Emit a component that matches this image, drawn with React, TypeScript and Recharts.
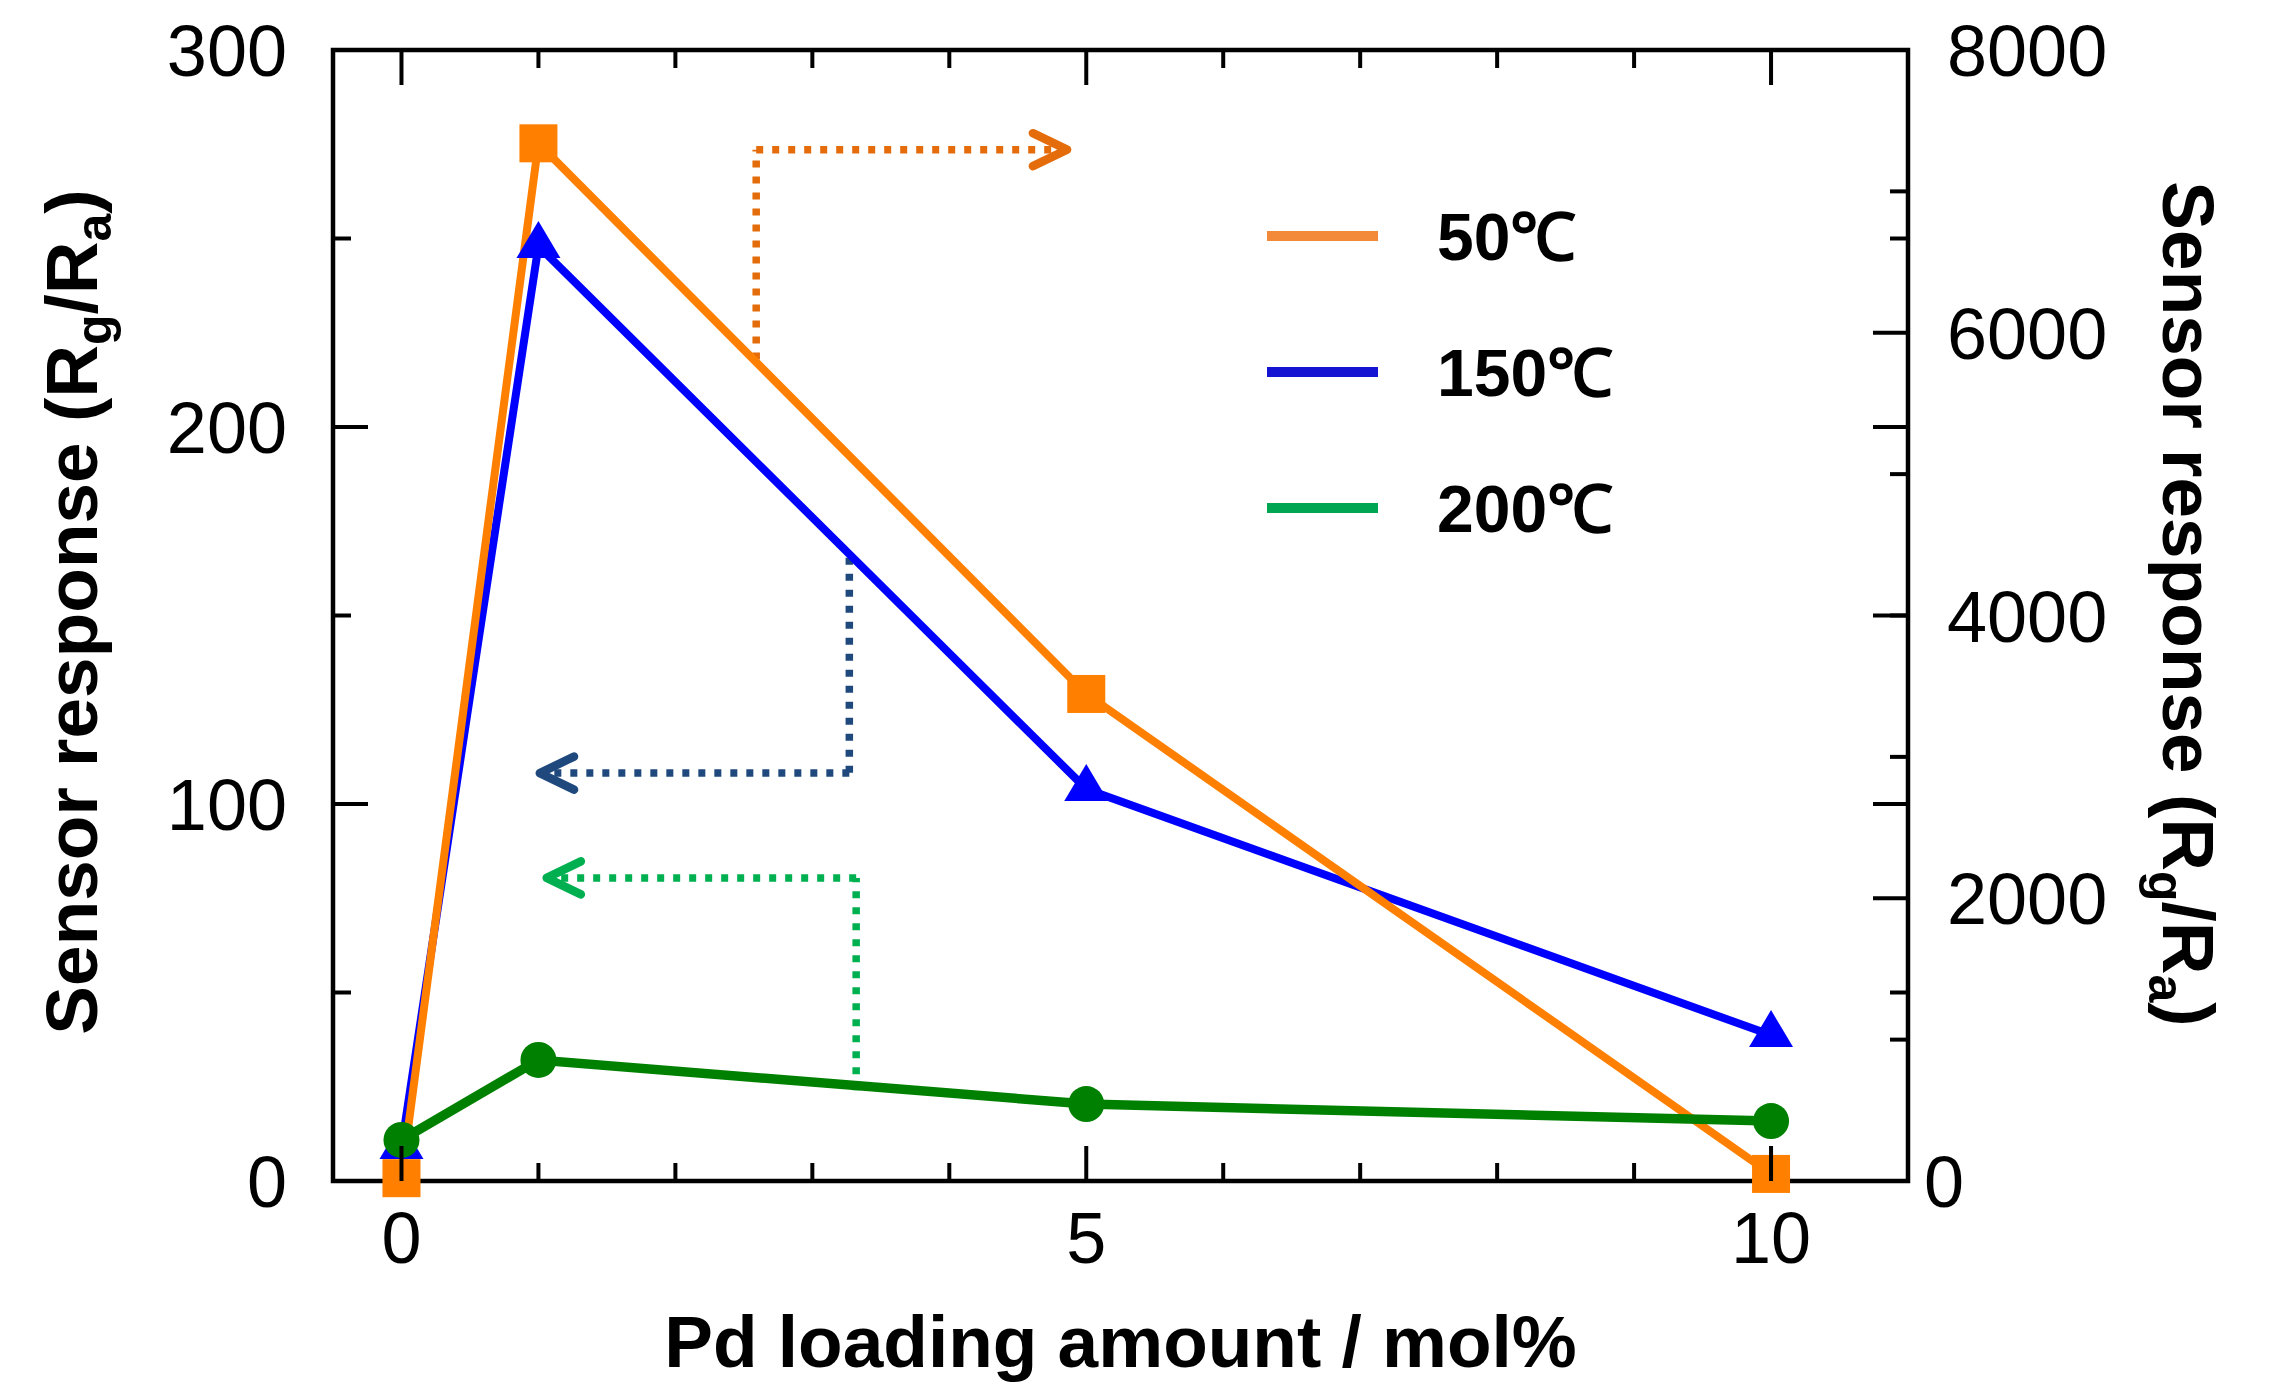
import React from 'react';
import { LineChart, Line, XAxis, YAxis, ReferenceArea, ReferenceLine, Legend, Label } from 'recharts';

// Pd loading (mol%) and sensor response for each working temperature
const loading = [0, 1, 5, 10];
const resp50 = [20, 7340, 3445, 50]; // right axis
const resp150 = [9, 248, 104, 38.7]; // left axis
const resp200 = [10.9, 32.1, 20.4, 15.9]; // left axis

const xTicks = [0, 1, 2, 3, 4, 5, 6, 7, 8, 9, 10];
const leftTicks = [0, 50, 100, 150, 200, 250, 300];
const rightTicks = [0, 1000, 2000, 3000, 4000, 5000, 6000, 7000, 8000];

const legendNames = ['50℃', '150℃', '200℃'];
const legendColors = ['#f28a3a', '#1414d2', '#00a651'];

// dotted guide arrows (corner points, x in mol%, y on the axis they point to)
const guide50X = [2.59, 2.59, 4.86];
const guide50Y = [5810, 7295, 7295];
const guide150X = [3.27, 3.27, 1.01];
const guide150Y = [165.3, 108.2, 108.2];
const guide200X = [3.32, 3.32, 1.06];
const guide200Y = [24.1, 80.4, 80.4];

const data = loading.map((x, i) => ({ x, r50: resp50[i], r150: resp150[i], r200: resp200[i] }));

const W = 2275;
const H = 1392;
const PLOT = { left: 333, right: 1908, top: 50, bottom: 1181 };
const FONT = '"Liberation Sans", Arial, sans-serif';
const TICK_FS = 72;

const XTick = (p: any) => {
  const v = p.payload.value;
  const x = p.x;
  const major = v % 5 === 0;
  const len = major ? 35 : 18;
  return (
    <g>
      <line x1={x} x2={x} y1={PLOT.bottom} y2={PLOT.bottom - len} stroke="#000" strokeWidth={4} />
      <line x1={x} x2={x} y1={PLOT.top} y2={PLOT.top + len} stroke="#000" strokeWidth={4} />
      {major && (
        <text x={x} y={PLOT.bottom + 82} textAnchor="middle" fontSize={TICK_FS} fontFamily={FONT} fill="#000">
          {v}
        </text>
      )}
    </g>
  );
};

const LeftTick = (p: any) => {
  const v = p.payload.value;
  const y = p.y;
  const major = v % 100 === 0;
  const len = major ? 35 : 18;
  return (
    <g>
      <line x1={PLOT.left} x2={PLOT.left + len} y1={y} y2={y} stroke="#000" strokeWidth={4} />
      <line x1={PLOT.right} x2={PLOT.right - len} y1={y} y2={y} stroke="#000" strokeWidth={4} />
      {major && (
        <text x={PLOT.left - 46} y={y + 26} textAnchor="end" fontSize={TICK_FS} fontFamily={FONT} fill="#000">
          {v}
        </text>
      )}
    </g>
  );
};

const RightTick = (p: any) => {
  const v = p.payload.value;
  const y = p.y;
  const major = v % 2000 === 0;
  const len = major ? 35 : 18;
  return (
    <g>
      <line x1={PLOT.right} x2={PLOT.right - len} y1={y} y2={y} stroke="#000" strokeWidth={4} />
      {major && (
        <text x={PLOT.right + (v === 0 ? 16 : 39)} y={y + 26} textAnchor="start" fontSize={TICK_FS} fontFamily={FONT} fill="#000">
          {v}
        </text>
      )}
    </g>
  );
};

const YTitle = ({ x, y, rot }: { x: number; y: number; rot: number }) => (
  <text
    transform={`translate(${x}, ${y}) rotate(${rot})`}
    textAnchor="middle"
    fontSize={73}
    fontWeight="bold"
    fontFamily={FONT}
    fill="#000"
  >
    Sensor response (R
    <tspan dy={14} fontSize={50}>g</tspan>
    <tspan dy={-14}>/R</tspan>
    <tspan dy={14} fontSize={50}>a</tspan>
    <tspan dy={-14}>)</tspan>
  </text>
);

const Square = (p: any) =>
  p.cx == null ? null : (
    <rect key={`sq-${p.index}`} x={p.cx - 19} y={p.cy - 19} width={38} height={38} fill="#ff8000" />
  );

const Triangle = (p: any) =>
  p.cx == null ? null : (
    <polygon
      key={`tr-${p.index}`}
      points={`${p.cx},${p.cy - 25} ${p.cx - 22},${p.cy + 12} ${p.cx + 22},${p.cy + 12}`}
      fill="#0000ff"
    />
  );

const Circle = (p: any) =>
  p.cx == null ? null : <circle key={`ci-${p.index}`} cx={p.cx} cy={p.cy} r={18} fill="#008000" />;

const GuideSeg = (p: any) => {
  const { x1, y1, x2, y2, color, head } = p;
  const ang = Math.atan2(y2 - y1, x2 - x1);
  const L = 38;
  const s = 0.45;
  const ax = x2 - L * Math.cos(ang - s);
  const ay = y2 - L * Math.sin(ang - s);
  const bx = x2 - L * Math.cos(ang + s);
  const by = y2 - L * Math.sin(ang + s);
  return (
    <g>
      <line x1={x1} y1={y1} x2={x2} y2={y2} stroke={color} strokeWidth={7.5} strokeDasharray="7 9" />
      {head && (
        <polyline
          points={`${ax},${ay} ${x2},${y2} ${bx},${by}`}
          fill="none"
          stroke={color}
          strokeWidth={8.5}
          strokeLinecap="round"
          strokeLinejoin="round"
        />
      )}
    </g>
  );
};

const guideLines = (xs: number[], ys: number[], axis: string, color: string) =>
  xs.slice(1).map((x, i) => (
    <ReferenceLine
      key={`${axis}-${color}-${i}`}
      yAxisId={axis}
      segment={[{ x: xs[i], y: ys[i] }, { x, y: ys[i + 1] }]}
      shape={(sp: any) => <GuideSeg {...sp} color={color} head={i === xs.length - 2} />}
    />
  ));

const LegendBox = () => (
  <svg width={420} height={360}>
    {legendNames.map((name, i) => {
      const y = 46 + i * 136;
      return (
        <g key={name}>
          <line x1={12} x2={123} y1={y} y2={y} stroke={legendColors[i]} strokeWidth={10} />
          <text x={182} y={y + 24} fontSize={66} fontWeight="bold" fontFamily={FONT} fill="#000">
            {name}
          </text>
        </g>
      );
    })}
  </svg>
);

export default function App() {
  return (
    <div style={{ position: 'absolute', left: 0, top: 0, width: W, height: H, background: '#fff' }}>
      <LineChart width={W} height={H} data={data} margin={{ top: PLOT.top, right: 0, bottom: 0, left: 0 }}>
        <XAxis
          type="number"
          dataKey="x"
          domain={[-0.5, 11]}
          ticks={xTicks}
          interval={0}
          tickLine={false}
          axisLine={false}
          height={H - PLOT.bottom}
          tick={(p: any) => <XTick {...p} />}
        >
          <Label
            content={() => (
              <text x={(PLOT.left + PLOT.right) / 2} y={1367} textAnchor="middle" fontSize={73} fontWeight="bold" fontFamily={FONT} fill="#000">
                Pd loading amount / mol%
              </text>
            )}
          />
        </XAxis>
        <YAxis
          yAxisId="left"
          domain={[0, 300]}
          ticks={leftTicks}
          interval={0}
          tickLine={false}
          axisLine={false}
          width={PLOT.left}
          tick={(p: any) => <LeftTick {...p} />}
        >
          <Label content={() => <YTitle x={97} y={612} rot={-90} />} />
        </YAxis>
        <YAxis
          yAxisId="right"
          orientation="right"
          domain={[0, 8000]}
          ticks={rightTicks}
          interval={0}
          tickLine={false}
          axisLine={false}
          width={W - PLOT.right}
          tick={(p: any) => <RightTick {...p} />}
        >
          <Label content={() => <YTitle x={2163} y={604} rot={90} />} />
        </YAxis>
        <ReferenceArea yAxisId="left" x1={-0.5} x2={11} y1={0} y2={300} fill="none" stroke="#000" strokeWidth={4.5} />
        {guideLines(guide50X, guide50Y, 'right', '#e46c0a')}
        {guideLines(guide150X, guide150Y, 'left', '#1f497d')}
        {guideLines(guide200X, guide200Y, 'left', '#00b050')}
        <Line
          yAxisId="left"
          dataKey="r150"
          name="150℃"
          stroke="#0000ff"
          strokeWidth={8}
          dot={(p: any) => <Triangle {...p} />}
          activeDot={false}
          isAnimationActive={false}
        />
        <Line
          yAxisId="right"
          dataKey="r50"
          name="50℃"
          stroke="#ff8000"
          strokeWidth={8}
          dot={(p: any) => <Square {...p} />}
          activeDot={false}
          isAnimationActive={false}
        />
        <Line
          yAxisId="left"
          dataKey="r200"
          name="200℃"
          stroke="#008000"
          strokeWidth={9.5}
          dot={(p: any) => <Circle {...p} />}
          activeDot={false}
          isAnimationActive={false}
        />
        <Legend
          layout="vertical"
          align="center"
          verticalAlign="middle"
          wrapperStyle={{ position: 'absolute', left: 1255, top: 190, width: 420, height: 360 }}
          content={() => <LegendBox />}
        />
      </LineChart>
    </div>
  );
}
